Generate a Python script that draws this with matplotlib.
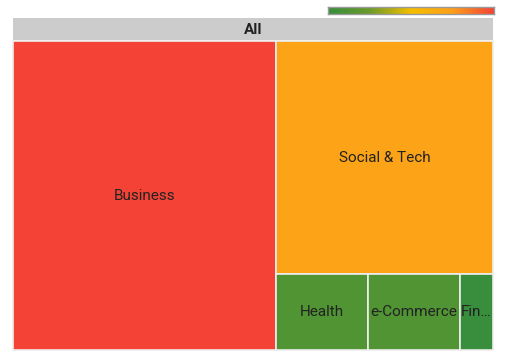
import numpy as np
import matplotlib.pyplot as plt
from matplotlib.colors import LinearSegmentedColormap
from matplotlib.patches import Rectangle

plt.rcParams['font.family'] = ['Roboto', 'DejaVu Sans']

# data
labels = ['Business', 'Social & Tech', 'Health', 'e-Commerce', 'Fin\u2026']
sizes = [54.8, 34.1, 4.7, 4.7, 1.7]
color_vals = [1.0, 0.72, 0.12, 0.12, 0.0]

cmap = LinearSegmentedColormap.from_list(
    'gyr', ['#388e3c', '#6a9a2c', '#f5bf00', '#fd9f1a', '#f44336'])


def layout_row(row, x, y, w, h):
    s = sum(row)
    rects = []
    if w >= h:
        rw = s / h
        yy = y
        for v in row:
            rh = v / rw
            rects.append((x, yy, rw, rh))
            yy += rh
        return rects, (x + rw, y, w - rw, h)
    rh = s / w
    xx = x
    for v in row:
        cw = v / rh
        rects.append((xx, y, cw, rh))
        xx += cw
    return rects, (x, y + rh, w, h - rh)


def worst(row, side):
    s = sum(row)
    return max(max(side * side * v / (s * s), s * s / (side * side * v)) for v in row)


def squarify(vals, x, y, w, h):
    total = sum(vals)
    vals = [v * w * h / total for v in vals]
    out = []
    row = []
    i = 0
    while i < len(vals):
        side = min(w, h)
        v = vals[i]
        if not row or worst(row + [v], side) <= worst(row, side):
            row.append(v)
            i += 1
        else:
            r, (x, y, w, h) = layout_row(row, x, y, w, h)
            out += r
            row = []
    if row:
        r, _ = layout_row(row, x, y, w, h)
        out += r
    return out


fig = plt.figure(figsize=(5.1, 3.63), dpi=100)
ax = fig.add_axes([0, 0, 1, 1])
ax.set_xlim(0, 510)
ax.set_ylim(363, 0)
ax.axis('off')

# header
ax.add_patch(Rectangle((13, 18), 480, 22, facecolor='#cccccc', edgecolor='none'))
ax.text(253, 29.5, 'All', ha='center', va='center', fontsize=11,
        fontweight='bold', color='#222222')

rects = squarify(sizes, 13, 41, 480, 309)
for (rx, ry, rw, rh), lab, cv in zip(rects, labels, color_vals):
    ax.add_patch(Rectangle((rx, ry), rw, rh, facecolor=cmap(cv),
                           edgecolor='#eeeeee', lw=1.2))
    ax.text(rx + rw / 2, ry + rh / 2, lab, ha='center', va='center',
            fontsize=11, color='#222222')

# colour scale
cax = fig.add_axes([328 / 510, 1 - 14 / 363, 166 / 510, 7 / 363])
cax.imshow(np.linspace(0, 1, 256)[None, :], aspect='auto', cmap=cmap)
cax.set_xticks([])
cax.set_yticks([])
for sp in cax.spines.values():
    sp.set_color('#999999')
    sp.set_linewidth(1)

fig.savefig('out.png', dpi=100)
